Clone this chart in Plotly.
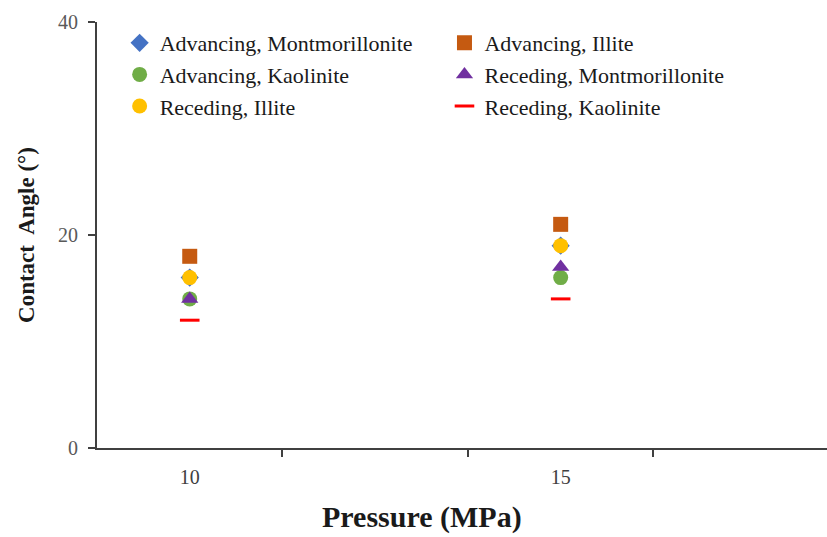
import plotly.graph_objects as go

pressure = [10, 15]
adv_mont = [16, 19]
adv_illite = [18, 21]
adv_kaol = [14, 16]
rec_mont = [14, 17]
rec_illite = [16, 19]
rec_kaol = [12, 14]

x_minor_ticks = [11.25, 13.75, 16.25]
y_ticks = [0, 20, 40]

series = [
    ("Advancing, Montmorillonite", adv_mont, "diamond", "#4472C4", 14, "legend"),
    ("Advancing, Illite", adv_illite, "square", "#C55A11", 15, "legend2"),
    ("Advancing, Kaolinite", adv_kaol, "circle", "#70AD47", 15, "legend"),
    ("Receding, Montmorillonite", rec_mont, "triangle-up", "#7030A0", 15, "legend2"),
    ("Receding, Illite", rec_illite, "circle", "#FFC000", 15, "legend"),
    ("Receding, Kaolinite", rec_kaol, "line-ew", "#FF0000", 14, "legend2"),
]

fig = go.Figure()
for i, (name, vals, sym, col, size, lg) in enumerate(series):
    if sym == "line-ew":
        marker = dict(symbol=sym, size=size, line=dict(color=col, width=3), color=col)
    else:
        marker = dict(symbol=sym, size=size, color=col, line=dict(width=0))
    fig.add_trace(go.Scatter(x=pressure, y=vals, mode="markers", name=name,
                             marker=marker, legend=lg, legendgroup=name))

legend_common = dict(
    font=dict(family="Liberation Serif", size=22, color="#1a1a1a"),
    bgcolor="rgba(0,0,0,0)", orientation="v", tracegroupgap=0,
    xanchor="left", yanchor="top", itemwidth=30,
)

fig.update_layout(
    width=827, height=537,
    margin=dict(l=97, r=0, t=22, b=89),
    plot_bgcolor="white", paper_bgcolor="white",
    font=dict(family="Liberation Serif"),
    legend=dict(x=0.031, y=1.0, **legend_common),
    legend2=dict(x=0.476, y=1.0, **legend_common),
    xaxis=dict(
        range=[8.75, 18.59], tickvals=pressure, ticktext=[str(p) for p in pressure],
        ticks="", showgrid=False, zeroline=False,
        showline=True, linecolor="#404040", linewidth=2,
        tickfont=dict(family="Liberation Serif", size=20, color="#404040"),
        ticklabelstandoff=10,
        minor=dict(tickvals=x_minor_ticks, ticks="outside", ticklen=7, tickwidth=1.5, tickcolor="#404040"),
    ),
    yaxis=dict(
        range=[0, 40], tickvals=y_ticks, ticks="outside", ticklen=7, tickwidth=1.5,
        tickcolor="#404040", showgrid=False, zeroline=False,
        showline=True, linecolor="#404040", linewidth=2,
        tickfont=dict(family="Liberation Serif", size=20, color="#595959"),
        ticklabelstandoff=6,
    ),
    annotations=[
        dict(text="<b>Pressure (MPa)</b>", xref="paper", yref="paper", x=0.445, y=-0.162,
             xanchor="center", yanchor="middle", showarrow=False,
             font=dict(family="Liberation Serif", size=30, color="#1a1a1a")),
        dict(text="<b>Contact  Angle (°)</b>", xref="paper", yref="paper", x=-0.0973, y=0.5,
             xanchor="center", yanchor="middle", showarrow=False, textangle=-90,
             font=dict(family="Liberation Serif", size=23, color="#1a1a1a")),
    ],
)

fig.write_html(
    "out.html",
    config={"displayModeBar": False},
    post_script="document.body.style.margin='0';document.body.style.overflow='hidden';",
)
